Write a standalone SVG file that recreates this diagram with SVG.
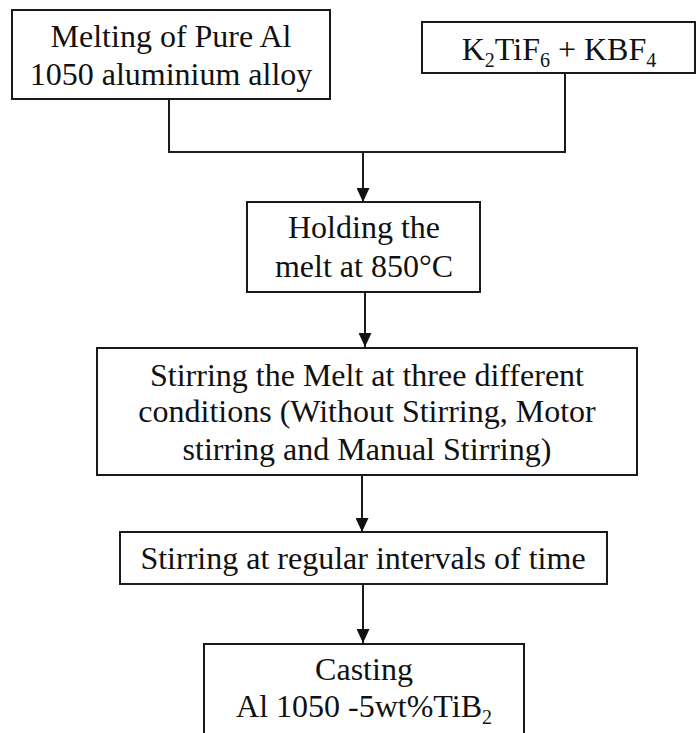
<svg xmlns="http://www.w3.org/2000/svg" width="696" height="733" viewBox="0 0 696 733">
<style>
.box{fill:#fff;stroke:#1a1a1a;stroke-width:2}
.t{font-family:"Liberation Serif","Times New Roman",serif;font-size:32px;fill:#111;text-anchor:middle}
.sub{font-size:20px}
.ln{fill:none;stroke:#1a1a1a;stroke-width:2}
</style>
<defs>
<marker id="ah" viewBox="0 0 14 13" refX="14" refY="6.5" markerWidth="14" markerHeight="13" markerUnits="userSpaceOnUse" orient="auto">
<path d="M0,0 L14,6.5 L0,13 Z" fill="#111"/>
</marker>
</defs>
<rect width="696" height="733" fill="#fff"/>
<g id="connectors">
<path class="ln" d="M169,99 V152 H565 V73"/>
<line class="ln" x1="363" y1="152" x2="363" y2="202" marker-end="url(#ah)"/>
<line class="ln" x1="365" y1="292" x2="365" y2="347" marker-end="url(#ah)"/>
<line class="ln" x1="362" y1="475" x2="362" y2="532" marker-end="url(#ah)"/>
<line class="ln" x1="363" y1="584" x2="363" y2="643" marker-end="url(#ah)"/>
</g>
<g id="melting">
<rect class="box" x="12" y="10" width="318" height="89"/>
<text class="t" x="171" y="47">Melting of Pure Al</text>
<text class="t" x="171" y="85">1050 aluminium alloy</text>
</g>
<g id="salts">
<rect class="box" x="422" y="22" width="273" height="51"/>
<text class="t" x="559" y="60">K<tspan class="sub" dy="7">2</tspan><tspan dy="-7">TiF</tspan><tspan class="sub" dy="7">6</tspan><tspan dy="-7"> + KBF</tspan><tspan class="sub" dy="7">4</tspan></text>
</g>
<g id="holding">
<rect class="box" x="247" y="202" width="233" height="90"/>
<text class="t" x="364" y="238">Holding the</text>
<text class="t" x="364" y="277">melt at 850°C</text>
</g>
<g id="stirring">
<rect class="box" x="97" y="348" width="540" height="127"/>
<text class="t" x="367" y="386">Stirring the Melt at three different</text>
<text class="t" x="367" y="422">conditions (Without Stirring, Motor</text>
<text class="t" x="367" y="460">stirring and Manual Stirring)</text>
</g>
<g id="intervals">
<rect class="box" x="120" y="532" width="487" height="52"/>
<text class="t" x="363" y="569">Stirring at regular intervals of time</text>
</g>
<g id="casting">
<rect class="box" x="204" y="644" width="320" height="100"/>
<text class="t" x="364" y="680">Casting</text>
<text class="t" x="364" y="717">Al 1050 -5wt%TiB<tspan class="sub" dy="7">2</tspan></text>
</g>
</svg>
